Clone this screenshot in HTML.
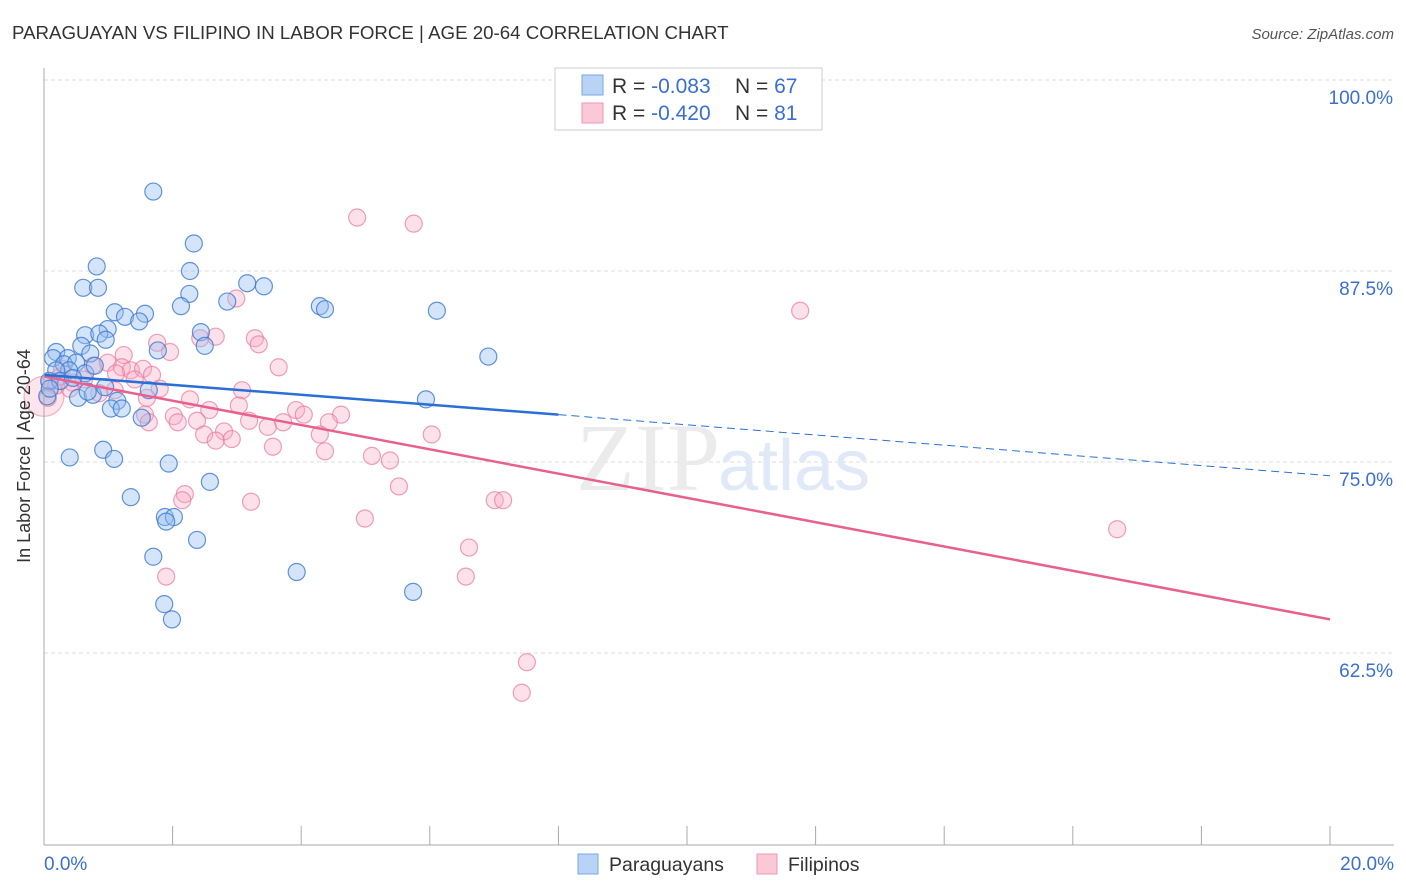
<!DOCTYPE html>
<html><head><meta charset="utf-8"><style>
body{margin:0;background:#fff;font-family:"Liberation Sans",sans-serif}
svg{display:block}
</style></head><body>
<svg id="chart" width="1406" height="892">
<text x="12" y="39" font-size="18.7" fill="#333">PARAGUAYAN VS FILIPINO IN LABOR FORCE | AGE 20-64 CORRELATION CHART</text>
<text x="1394" y="39" font-size="15" fill="#555" font-style="italic" text-anchor="end">Source: ZipAtlas.com</text>
<g id="grid"></g>
<text x="720" y="490" font-size="96" fill="#ebebeb" font-family="Liberation Serif,serif" text-anchor="end">ZIP</text>
<text x="718" y="490" font-size="72" fill="#dfe9f7">atlas</text>
<g id="pts"></g>
<g id="lines"></g>
<line x1="44" y1="68" x2="44" y2="845" stroke="#aaa"/>
<line x1="44" y1="845" x2="1394" y2="845" stroke="#aaa"/>
<text x="30" y="456" font-size="18" fill="#333" text-anchor="middle" transform="rotate(-90 30 456)">In Labor Force | Age 20-64</text>
<text x="44" y="870" font-size="19" fill="#3a6fd0">0.0%</text>
<text x="1394" y="870" font-size="19" fill="#3a6fd0" text-anchor="end">20.0%</text>
<g>
<rect x="555" y="68" width="267" height="62" fill="#fff" stroke="#ccc"/>
<rect x="582" y="75" width="21" height="20" fill="#b9d3f5" stroke="#7aa6e6"/>
<rect x="582" y="103" width="21" height="20" fill="#fac8d6" stroke="#f095b0"/>
<text x="612" y="93" font-size="21" fill="#333">R = <tspan fill="#3a6fd0">-0.083</tspan><tspan x="735">N = </tspan><tspan fill="#3a6fd0">67</tspan></text>
<text x="612" y="120" font-size="21" fill="#333">R = <tspan fill="#3a6fd0">-0.420</tspan><tspan x="735">N = </tspan><tspan fill="#3a6fd0"> 81</tspan></text>
</g>
<g>
<rect x="578" y="854" width="20" height="20" fill="#b9d3f5" stroke="#7aa6e6"/>
<text x="609" y="871" font-size="19.5" fill="#333">Paraguayans</text>
<rect x="757" y="854" width="20" height="20" fill="#fac8d6" stroke="#f095b0"/>
<text x="788" y="871" font-size="19.5" fill="#333">Filipinos</text>
</g>
</svg>
<script>
const yTicks=[100,87.5,75,62.5];
const yTickLabels=["100.0%","87.5%","75.0%","62.5%"];
const xTicks=[0,2,4,6,8,10,12,14,16,18,20];
const blueX=[1.70,2.33,0.82,2.27,0.61,0.84,3.16,3.42,2.26,2.85,2.13,4.29,4.37,6.11,1.10,1.57,1.26,1.48,0.99,0.64,0.86,0.96,2.44,2.50,0.58,6.91,1.77,0.72,0.19,0.14,0.37,0.31,0.50,0.39,0.19,0.08,0.05,0.53,0.76,0.95,1.14,1.63,1.04,1.21,1.52,5.94,0.40,0.92,1.09,1.94,2.58,1.35,1.88,2.02,1.90,2.38,1.70,3.93,5.74,1.87,1.99,0.25,0.09,0.64,0.79,0.45,0.68];
const blueY=[92.7,89.3,87.8,87.5,86.4,86.4,86.7,86.5,86.0,85.5,85.2,85.2,85.0,84.9,84.8,84.7,84.5,84.2,83.7,83.3,83.4,83.0,83.5,82.6,82.6,81.9,82.3,82.1,82.2,81.8,81.8,81.4,81.5,81.0,81.0,80.3,79.3,79.2,79.4,79.9,79.0,79.7,78.5,78.5,77.9,79.1,75.3,75.8,75.2,74.9,73.7,72.7,71.4,71.4,71.1,69.9,68.8,67.8,66.5,65.7,64.7,80.3,79.8,80.8,81.3,80.5,79.6];
const pinkX=[4.87,5.75,11.76,2.99,2.67,2.43,3.28,3.34,1.76,1.96,1.24,3.65,0.99,0.76,1.21,1.35,1.54,1.12,1.68,0.25,0.09,0.19,0.44,0.62,1.41,1.80,3.08,1.10,0.86,1.60,2.27,2.57,3.03,3.92,4.04,4.62,1.57,2.02,2.08,1.63,2.38,3.19,3.48,4.43,3.72,4.29,2.80,2.49,2.92,2.67,6.03,4.37,3.56,5.10,5.38,5.52,2.19,2.15,3.22,7.01,7.14,4.99,16.69,6.61,1.90,6.56,7.51,7.43,0.06,0.40,0.28];
const pinkY=[91.0,90.6,84.9,85.7,83.2,83.1,83.1,82.7,82.8,82.2,82.0,81.2,81.5,81.3,81.2,81.0,81.1,80.8,80.7,80.6,80.2,80.0,80.2,80.4,80.4,79.8,79.7,79.7,79.5,79.2,79.1,78.4,78.7,78.4,78.1,78.1,78.1,78.0,77.6,77.6,77.7,77.7,77.3,77.6,77.6,76.8,77.0,76.8,76.5,76.4,76.8,75.7,76.0,75.4,75.1,73.4,72.9,72.5,72.4,72.5,72.5,71.3,70.6,69.4,67.5,67.5,61.9,59.9,79.2,79.8,81.1];
const blueTrend=[[0,80.7],[8,78.1],[20,74.1]];
const pinkTrend=[[0,80.6],[20,64.7]];
const sx=v=>44+v*64.3;
const sy=v=>80+(100-v)*15.28;
const NS="http://www.w3.org/2000/svg";
const grid=document.getElementById('grid');
yTicks.forEach((t,i)=>{
 const l=document.createElementNS(NS,'line');
 l.setAttribute('x1',44);l.setAttribute('x2',1394);l.setAttribute('y1',sy(t));l.setAttribute('y2',sy(t));
 l.setAttribute('stroke','#ddd');l.setAttribute('stroke-dasharray','4 3');
 
 
 grid.appendChild(l);
 const tx=document.createElementNS(NS,'text');
 tx.setAttribute('x',1393);tx.setAttribute('y',sy(t)+24);tx.setAttribute('text-anchor','end');
 tx.setAttribute('font-size','19');tx.setAttribute('fill','#3a6fd0');tx.textContent=yTickLabels[i];
 
 
 grid.appendChild(tx);
});
xTicks.forEach(t=>{
 const l=document.createElementNS(NS,'line');
 l.setAttribute('x1',sx(t));l.setAttribute('x2',sx(t));l.setAttribute('y1',826);l.setAttribute('y2',845);
 l.setAttribute('stroke','#aaa');
 
 
 grid.appendChild(l);
});
const pts=document.getElementById('pts');
function dot(x,y,r,fill,stroke,name){
 const c=document.createElementNS(NS,'circle');
 c.setAttribute('cx',x);c.setAttribute('cy',y);c.setAttribute('r',r);
 c.setAttribute('fill',fill);c.setAttribute('stroke',stroke);c.setAttribute('stroke-width','1.2');
 
 
 pts.appendChild(c);
}
dot(sx(0),sy(79.3),20,'rgba(244,150,180,0.25)','rgba(230,110,150,0.5)','filipino-point');
pinkX.forEach((v,i)=>dot(sx(v),sy(pinkY[i]),8.5,'rgba(248,170,195,0.35)','rgba(232,120,155,0.7)','filipino-point'));
blueX.forEach((v,i)=>dot(sx(v),sy(blueY[i]),8.5,'rgba(150,190,240,0.4)','rgba(60,120,210,0.8)','paraguayan-point'));
const lines=document.getElementById('lines');
function seg(a,b,color,w,dash,name){
 const l=document.createElementNS(NS,'line');
 l.setAttribute('x1',sx(a[0]));l.setAttribute('y1',sy(a[1]));l.setAttribute('x2',sx(b[0]));l.setAttribute('y2',sy(b[1]));
 l.setAttribute('stroke',color);l.setAttribute('stroke-width',w);if(dash)l.setAttribute('stroke-dasharray',dash);
 
 
 lines.appendChild(l);
}
seg(pinkTrend[0],pinkTrend[1],'#e8608e',2.5,null,'filipino-trend-line');
seg(blueTrend[0],blueTrend[1],'#2a6fd6',2.5,null,'paraguayan-trend-line');
seg(blueTrend[1],blueTrend[2],'#2a6fd6',1,'8 5','paraguayan-trend-extension');
</script>
</body></html>
